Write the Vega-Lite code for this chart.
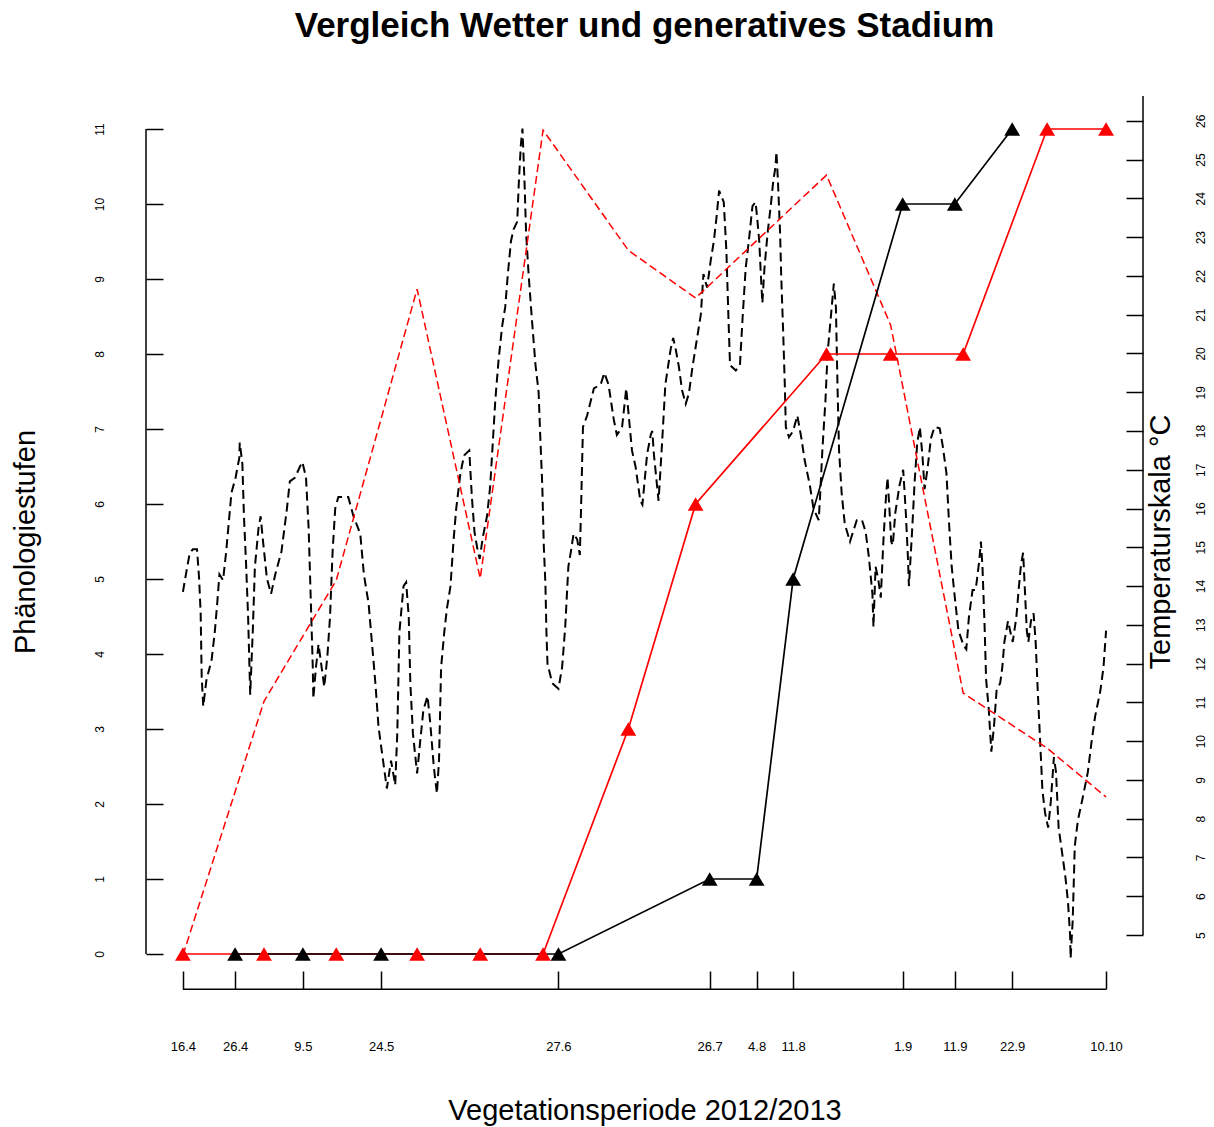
{
  "$schema": "https://vega.github.io/schema/vega-lite/v6.json",
  "width": 997,
  "height": 891,
  "autosize": {"type": "none"},
  "padding": {"left": 146, "top": 96, "right": 71, "bottom": 140},
  "background": "white",
  "config": {"view": {"stroke": null}, "font": "Liberation Sans"},
  "title": {"text": "Vergleich Wetter und generatives Stadium", "font": "Liberation Sans", "fontSize": 35, "fontWeight": "bold", "color": "black", "anchor": "middle", "baseline": "alphabetic", "offset": 23},
  "datasets": {
    "temp": [
      {"day":0.0,"temp":13.85},{"day":0.7,"temp":14.4},{"day":1.3,"temp":14.85},{"day":1.9,"temp":14.95},{"day":2.7,"temp":14.95},{"day":3.1,"temp":14.2},{"day":3.4,"temp":13.3},{"day":3.6,"temp":11.65},{"day":3.9,"temp":10.9},{"day":4.5,"temp":11.57},{"day":5.5,"temp":12.1},{"day":6.1,"temp":12.8},{"day":6.6,"temp":13.6},{"day":7.0,"temp":14.3},{"day":7.7,"temp":14.15},{"day":8.3,"temp":14.9},{"day":8.7,"temp":15.5},{"day":9.3,"temp":16.4},{"day":10.1,"temp":16.8},{"day":10.8,"temp":17.3},{"day":10.9,"temp":17.7},{"day":11.4,"temp":17.15},{"day":11.7,"temp":15.8},{"day":12.1,"temp":14.6},{"day":12.5,"temp":13.2},{"day":12.9,"temp":11.2},{"day":13.4,"temp":12.86},{"day":13.8,"temp":14.5},{"day":14.5,"temp":15.5},{"day":14.9,"temp":15.8},{"day":15.4,"temp":15.1},{"day":16.1,"temp":14.2},{"day":16.9,"temp":13.8},{"day":17.7,"temp":14.3},{"day":18.9,"temp":14.9},{"day":19.9,"temp":15.95},{"day":20.5,"temp":16.7},{"day":21.5,"temp":16.8},{"day":22.5,"temp":17.1},{"day":22.9,"temp":17.2},{"day":23.6,"temp":16.8},{"day":24.1,"temp":15.5},{"day":24.5,"temp":13.7},{"day":24.9,"temp":11.9},{"day":25.0,"temp":11.1},{"day":25.5,"temp":11.9},{"day":26.0,"temp":12.5},{"day":26.6,"temp":11.9},{"day":27.1,"temp":11.4},{"day":27.7,"temp":12.2},{"day":28.2,"temp":13.2},{"day":28.7,"temp":14.9},{"day":29.2,"temp":16.0},{"day":29.8,"temp":16.3},{"day":31.7,"temp":16.3},{"day":32.7,"temp":15.8},{"day":34.0,"temp":15.35},{"day":34.7,"temp":14.3},{"day":35.6,"temp":13.55},{"day":36.2,"temp":12.6},{"day":36.9,"temp":11.5},{"day":37.5,"temp":10.37},{"day":38.1,"temp":9.77},{"day":39.1,"temp":8.78},{"day":39.9,"temp":9.5},{"day":40.7,"temp":8.87},{"day":41.1,"temp":10.2},{"day":41.5,"temp":12.8},{"day":42.3,"temp":14.0},{"day":42.8,"temp":14.1},{"day":43.3,"temp":13.2},{"day":43.6,"temp":11.5},{"day":44.1,"temp":10.2},{"day":44.9,"temp":9.17},{"day":45.5,"temp":10.0},{"day":46.1,"temp":10.8},{"day":46.9,"temp":11.16},{"day":47.4,"temp":10.5},{"day":48.1,"temp":9.34},{"day":48.7,"temp":8.65},{"day":49.1,"temp":9.5},{"day":49.5,"temp":11.9},{"day":50.1,"temp":12.8},{"day":50.6,"temp":13.4},{"day":51.3,"temp":14.0},{"day":51.9,"temp":15.2},{"day":52.4,"temp":16.0},{"day":53.2,"temp":16.9},{"day":53.9,"temp":17.37},{"day":54.9,"temp":17.5},{"day":55.4,"temp":16.3},{"day":55.9,"temp":15.4},{"day":56.4,"temp":15.0},{"day":56.9,"temp":14.7},{"day":57.5,"temp":15.26},{"day":58.3,"temp":15.8},{"day":58.9,"temp":16.55},{"day":59.5,"temp":17.9},{"day":59.9,"temp":18.8},{"day":60.5,"temp":19.8},{"day":61.2,"temp":20.7},{"day":61.8,"temp":21.2},{"day":62.3,"temp":22.05},{"day":62.9,"temp":22.9},{"day":63.4,"temp":23.2},{"day":64.1,"temp":23.4},{"day":64.4,"temp":24.4},{"day":64.8,"temp":25.4},{"day":65.1,"temp":25.8},{"day":65.5,"temp":24.4},{"day":65.8,"temp":23.1},{"day":66.3,"temp":22.0},{"day":66.9,"temp":20.9},{"day":67.6,"temp":19.7},{"day":68.2,"temp":19.0},{"day":68.5,"temp":17.9},{"day":68.9,"temp":16.6},{"day":69.2,"temp":15.0},{"day":69.5,"temp":14.06},{"day":69.7,"temp":12.8},{"day":69.9,"temp":12.0},{"day":70.8,"temp":11.5},{"day":72.0,"temp":11.35},{"day":72.7,"temp":11.9},{"day":73.3,"temp":12.95},{"day":73.9,"temp":14.5},{"day":74.4,"temp":14.9},{"day":74.9,"temp":15.35},{"day":75.6,"temp":15.2},{"day":76.1,"temp":14.8},{"day":76.3,"temp":15.8},{"day":76.7,"temp":18.1},{"day":77.5,"temp":18.4},{"day":78.8,"temp":19.1},{"day":80.1,"temp":19.2},{"day":80.8,"temp":19.5},{"day":81.6,"temp":19.2},{"day":82.6,"temp":18.3},{"day":83.2,"temp":17.9},{"day":84.2,"temp":18.1},{"day":85.0,"temp":19.1},{"day":85.5,"temp":18.36},{"day":86.1,"temp":17.5},{"day":86.8,"temp":17.07},{"day":87.7,"temp":16.2},{"day":88.1,"temp":16.1},{"day":89.0,"temp":17.4},{"day":89.7,"temp":17.9},{"day":90.0,"temp":18.0},{"day":90.3,"temp":17.4},{"day":90.9,"temp":16.6},{"day":91.2,"temp":16.2},{"day":91.9,"temp":17.76},{"day":92.5,"temp":19.2},{"day":93.5,"temp":20.1},{"day":94.0,"temp":20.4},{"day":94.5,"temp":20.1},{"day":95.1,"temp":19.65},{"day":95.7,"temp":19.05},{"day":96.4,"temp":18.7},{"day":97.0,"temp":18.96},{"day":97.7,"temp":19.65},{"day":98.3,"temp":20.16},{"day":99.3,"temp":21.0},{"day":99.8,"temp":22.05},{"day":100.5,"temp":21.7},{"day":101.2,"temp":22.4},{"day":101.8,"temp":22.9},{"day":102.3,"temp":23.5},{"day":102.8,"temp":24.2},{"day":103.7,"temp":23.9},{"day":104.2,"temp":22.65},{"day":104.6,"temp":20.9},{"day":104.9,"temp":19.7},{"day":106.0,"temp":19.56},{"day":106.8,"temp":19.7},{"day":107.3,"temp":20.9},{"day":107.9,"temp":22.2},{"day":108.5,"temp":22.9},{"day":109.2,"temp":23.8},{"day":109.8,"temp":23.9},{"day":110.1,"temp":23.5},{"day":110.5,"temp":22.9},{"day":110.8,"temp":22.05},{"day":111.1,"temp":21.3},{"day":111.5,"temp":22.2},{"day":112.1,"temp":23.1},{"day":112.7,"temp":23.8},{"day":113.2,"temp":24.46},{"day":113.6,"temp":24.8},{"day":113.8,"temp":25.2},{"day":114.1,"temp":24.4},{"day":114.5,"temp":23.1},{"day":114.7,"temp":22.05},{"day":115.1,"temp":20.5},{"day":115.4,"temp":19.2},{"day":115.6,"temp":18.1},{"day":116.2,"temp":17.84},{"day":117.0,"temp":18.0},{"day":117.8,"temp":18.4},{"day":118.6,"temp":17.8},{"day":119.2,"temp":17.25},{"day":120.2,"temp":16.6},{"day":120.9,"temp":16.0},{"day":121.9,"temp":15.7},{"day":122.2,"temp":16.4},{"day":122.6,"temp":17.5},{"day":123.2,"temp":18.8},{"day":123.6,"temp":20.0},{"day":124.8,"temp":21.8},{"day":125.2,"temp":21.2},{"day":125.5,"temp":19.2},{"day":125.8,"temp":17.5},{"day":126.3,"temp":16.4},{"day":126.9,"temp":15.6},{"day":127.9,"temp":15.15},{"day":129.2,"temp":15.7},{"day":130.2,"temp":15.7},{"day":130.9,"temp":15.4},{"day":131.5,"temp":14.77},{"day":132.2,"temp":13.8},{"day":132.4,"temp":12.94},{"day":132.8,"temp":14.5},{"day":133.3,"temp":14.2},{"day":133.8,"temp":13.7},{"day":134.3,"temp":15.15},{"day":134.8,"temp":16.3},{"day":135.1,"temp":16.8},{"day":135.5,"temp":15.9},{"day":135.8,"temp":15.15},{"day":136.1,"temp":15.05},{"day":136.6,"temp":15.9},{"day":137.4,"temp":16.6},{"day":138.1,"temp":17.0},{"day":138.6,"temp":15.9},{"day":139.0,"temp":14.77},{"day":139.2,"temp":14.0},{"day":139.8,"temp":15.4},{"day":140.3,"temp":16.7},{"day":140.8,"temp":17.7},{"day":141.3,"temp":18.1},{"day":141.8,"temp":17.35},{"day":142.2,"temp":16.5},{"day":142.8,"temp":17.06},{"day":143.4,"temp":17.8},{"day":144.1,"temp":18.1},{"day":145.1,"temp":18.07},{"day":145.7,"temp":17.6},{"day":146.4,"temp":16.9},{"day":146.9,"temp":15.6},{"day":147.4,"temp":14.5},{"day":148.0,"temp":13.7},{"day":148.7,"temp":12.85},{"day":149.7,"temp":12.46},{"day":150.2,"temp":12.37},{"day":150.7,"temp":13.2},{"day":151.4,"temp":13.9},{"day":152.0,"temp":13.9},{"day":152.7,"temp":14.67},{"day":153.0,"temp":15.15},{"day":153.3,"temp":14.5},{"day":153.7,"temp":13.0},{"day":154.0,"temp":11.6},{"day":154.5,"temp":10.83},{"day":154.8,"temp":10.16},{"day":155.0,"temp":9.73},{"day":155.5,"temp":10.36},{"day":156.0,"temp":11.3},{"day":156.7,"temp":11.5},{"day":157.1,"temp":11.9},{"day":157.5,"temp":12.56},{"day":158.2,"temp":13.1},{"day":158.6,"temp":12.85},{"day":159.1,"temp":12.56},{"day":159.8,"temp":13.2},{"day":160.3,"temp":14.0},{"day":160.7,"temp":14.57},{"day":161.1,"temp":14.86},{"day":161.4,"temp":14.0},{"day":161.8,"temp":12.85},{"day":162.1,"temp":12.56},{"day":162.6,"temp":13.1},{"day":163.1,"temp":13.3},{"day":163.5,"temp":12.56},{"day":163.9,"temp":11.3},{"day":164.3,"temp":10.16},{"day":164.8,"temp":8.73},{"day":165.3,"temp":8.15},{"day":165.9,"temp":7.77},{"day":166.4,"temp":8.44},{"day":167.0,"temp":9.59},{"day":167.4,"temp":9.2},{"day":167.9,"temp":7.77},{"day":168.5,"temp":7.19},{"day":169.2,"temp":6.5},{"day":169.7,"temp":5.85},{"day":170.1,"temp":5.0},{"day":170.2,"temp":4.4},{"day":170.6,"temp":5.37},{"day":171.0,"temp":7.3},{"day":171.6,"temp":7.96},{"day":172.5,"temp":8.53},{"day":173.5,"temp":9.2},{"day":174.2,"temp":9.97},{"day":174.9,"temp":10.64},{"day":175.9,"temp":11.3},{"day":176.5,"temp":11.9},{"day":177.0,"temp":12.85}
    ],
    "red": [
      {"day":0,"stage":0,"temp":4.48},{"day":15.55,"stage":0,"temp":11.03},{"day":29.4,"stage":0,"temp":14.15},{"day":44.9,"stage":0,"temp":21.66},{"day":57.0,"stage":0,"temp":14.2},{"day":69.05,"stage":0,"temp":25.76},{"day":85.4,"stage":3,"temp":22.66},{"day":98.3,"stage":6,"temp":21.43},{"day":123.4,"stage":8,"temp":24.6},{"day":135.7,"stage":8,"temp":20.73},{"day":149.6,"stage":8,"temp":11.24},{"day":165.7,"stage":11,"temp":9.82},{"day":177,"stage":11,"temp":8.56}
    ],
    "black": [
      {"day":10,"stage":0},{"day":23,"stage":0},{"day":38,"stage":0},{"day":72,"stage":0},{"day":101,"stage":1},{"day":110,"stage":1},{"day":117,"stage":5},{"day":138,"stage":10},{"day":148,"stage":10},{"day":159,"stage":11}
    ]
  },
  "layer": [
    {
      "layer": [
        {
          "data": {"name": "temp"},
          "mark": {"type": "line", "color": "black", "strokeWidth": 2, "strokeDash": [9, 5], "clip": false},
          "encoding": {
            "x": {"field": "day", "type": "quantitative", "scale": {"domain": [-7.08, 184.08], "nice": false, "zero": false},
              "axis": {"orient": "bottom", "offset": 2, "values": [0, 10, 23, 38, 72, 101, 110, 117, 138, 148, 159, 177],
                "labelExpr": "timeFormat(datetime(2013, 3, 16 + datum.value), '%-d.%-m')",
                "domain": false, "grid": false, "tickSize": -18, "tickColor": "black", "tickWidth": 1.5,
                "labelPadding": 75, "labelBaseline": "middle", "labelAlign": "center", "labelFontSize": 13, "labelColor": "black", "labelFont": "Liberation Sans", "labelFlush": false, "labelOverlap": false,
                "title": "Vegetationsperiode 2012/2013", "titleFontSize": 29, "titleFontWeight": "normal", "titleColor": "black", "titleFont": "Liberation Sans",
                "titleX": 498.5, "titleY": 121, "titleAlign": "center", "titleBaseline": "middle"}},
            "y": {"field": "temp", "type": "quantitative", "scale": {"domain": [3.66, 26.64], "nice": false, "zero": false},
              "axis": {"orient": "right", "values": [5,6,7,8,9,10,11,12,13,14,15,16,17,18,19,20,21,22,23,24,25,26], "format": "d",
                "domain": false, "grid": false, "tickSize": -17, "tickColor": "black", "tickWidth": 1.5,
                "labelAngle": 270, "labelAlign": "center", "labelBaseline": "middle", "labelPadding": 74, "labelFontSize": 12, "labelColor": "black", "labelFont": "Liberation Sans", "labelFlush": false, "labelOverlap": false,
                "title": "Temperaturskala °C", "titleFontSize": 29, "titleFontWeight": "normal", "titleColor": "black", "titleFont": "Liberation Sans",
                "titleAngle": 270, "titleX": 17, "titleY": 445.5, "titleAlign": "center", "titleBaseline": "middle"}}
          }
        },
        {
          "data": {"name": "red"},
          "mark": {"type": "line", "color": "red", "strokeWidth": 1.5, "strokeDash": [8, 4], "clip": false},
          "encoding": {
            "x": {"field": "day", "type": "quantitative"},
            "y": {"field": "temp", "type": "quantitative"}
          }
        },
        {
          "data": {"values": [{}]},
          "mark": {"type": "rule", "color": "black", "strokeWidth": 1.5, "clip": false},
          "encoding": {
            "x": {"datum": 184.08, "type": "quantitative"},
            "y": {"datum": 5, "type": "quantitative"},
            "y2": {"datum": 26.64}
          }
        }
      ]
    },
    {
      "layer": [
        {
          "data": {"name": "red"},
          "mark": {"type": "line", "color": "red", "strokeWidth": 1.7, "clip": false},
          "encoding": {
            "x": {"field": "day", "type": "quantitative"},
            "y": {"field": "stage", "type": "quantitative", "scale": {"domain": [-0.44, 11.44], "nice": false, "zero": false},
              "axis": {"orient": "left", "values": [0,1,2,3,4,5,6,7,8,9,10,11], "format": "d",
                "domain": false, "grid": false, "tickSize": -17, "tickColor": "black", "tickWidth": 1.5,
                "labelAngle": 270, "labelAlign": "center", "labelBaseline": "middle", "labelPadding": 64, "labelFontSize": 12, "labelColor": "black", "labelFont": "Liberation Sans", "labelFlush": false, "labelOverlap": false,
                "title": "Phänologiestufen", "titleFontSize": 29, "titleFontWeight": "normal", "titleColor": "black", "titleFont": "Liberation Sans",
                "titleAngle": 270, "titleX": -121, "titleY": 445.5, "titleAlign": "center", "titleBaseline": "middle"}}
          }
        },
        {
          "data": {"name": "black"},
          "mark": {"type": "line", "color": "black", "strokeWidth": 1.7, "clip": false},
          "encoding": {
            "x": {"field": "day", "type": "quantitative"},
            "y": {"field": "stage", "type": "quantitative"}
          }
        },
        {
          "data": {"name": "black"},
          "mark": {"type": "point", "shape": "triangle-up", "filled": true, "color": "black", "opacity": 1, "size": 250, "clip": false},
          "encoding": {
            "x": {"field": "day", "type": "quantitative"},
            "y": {"field": "stage", "type": "quantitative"}
          }
        },
        {
          "data": {"name": "red"},
          "mark": {"type": "point", "shape": "triangle-up", "filled": true, "color": "red", "opacity": 1, "size": 250, "clip": false},
          "encoding": {
            "x": {"field": "day", "type": "quantitative"},
            "y": {"field": "stage", "type": "quantitative"}
          }
        },
        {
          "data": {"values": [{}]},
          "mark": {"type": "rule", "color": "black", "strokeWidth": 1.5, "clip": false},
          "encoding": {
            "x": {"datum": -7.08, "type": "quantitative"},
            "y": {"datum": 0, "type": "quantitative"},
            "y2": {"datum": 11}
          }
        },
        {
          "data": {"values": [{}]},
          "mark": {"type": "rule", "color": "black", "strokeWidth": 1.5, "clip": false},
          "encoding": {
            "x": {"datum": 0, "type": "quantitative"},
            "x2": {"datum": 177},
            "y": {"datum": -0.47, "type": "quantitative"}
          }
        }
      ]
    }
  ],
  "resolve": {"scale": {"y": "independent"}}
}
